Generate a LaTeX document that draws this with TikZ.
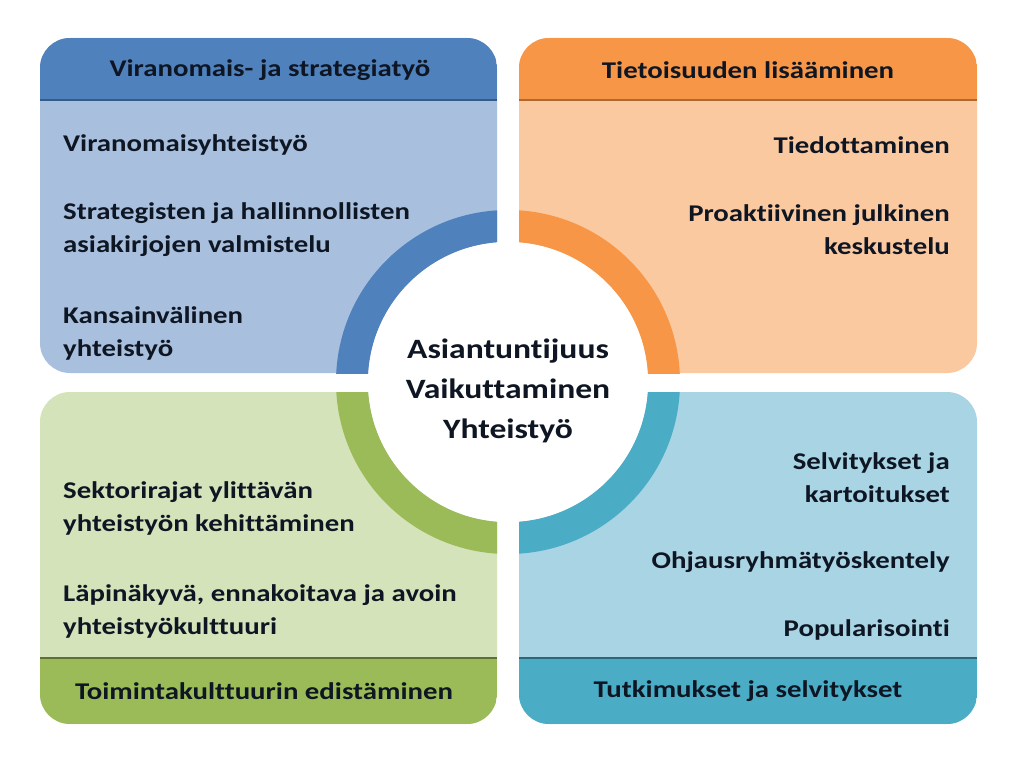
\documentclass[tikz,border=0pt]{standalone}
\usepackage{fontspec}
\setmainfont[Ligatures=NoCommon,FakeStretch=1.2]{Carlito}
\usetikzlibrary{backgrounds}

\definecolor{blueHead}{RGB}{79,129,189}
\definecolor{blueBody}{RGB}{168,192,222}
\definecolor{orangeHead}{RGB}{247,150,70}
\definecolor{orangeBody}{RGB}{251,201,160}
\definecolor{greenHead}{RGB}{155,187,89}
\definecolor{greenBody}{RGB}{213,227,187}
\definecolor{tealHead}{RGB}{75,172,198}
\definecolor{tealBody}{RGB}{168,212,228}
\definecolor{inkText}{RGB}{15,22,35}

\begin{document}
\begin{tikzpicture}[x=1pt,y=-1pt]
\tikzstyle{every node}=[text=inkText,font=\bfseries\fontsize{24}{33}\selectfont,inner sep=0pt]
\tikzstyle{title}=[font=\bfseries\fontsize{24}{28}\selectfont]
\tikzstyle{lefttext}=[anchor=west,align=left]
\tikzstyle{righttext}=[anchor=east,align=right]
\useasboundingbox (0,0) rectangle (1023,768);
\fill[white] (0,0) rectangle (1023,768);
% panels
\fill[blueBody,rounded corners=30] (40,38) rectangle (497,373);
\fill[orangeBody,rounded corners=30] (519,38) rectangle (977,373);
\fill[greenBody,rounded corners=30] (40,392) rectangle (497,724);
\fill[tealBody,rounded corners=30] (519,392) rectangle (977,724);
% header and footer bands
\begin{scope}
\clip[rounded corners=30] (40,38) rectangle (497,373);
\fill[blueHead] (40,38) rectangle (497,100);
\draw[blueHead!70!black,line width=2] (40,100) -- (497,100);
\end{scope}
\begin{scope}
\clip[rounded corners=30] (519,38) rectangle (977,373);
\fill[orangeHead] (519,38) rectangle (977,100);
\draw[orangeHead!70!black,line width=2] (519,100) -- (977,100);
\end{scope}
\begin{scope}
\clip[rounded corners=30] (40,392) rectangle (497,724);
\fill[greenHead] (40,658) rectangle (497,724);
\draw[greenHead!60!black,line width=2] (40,658) -- (497,658);
\end{scope}
\begin{scope}
\clip[rounded corners=30] (519,392) rectangle (977,724);
\fill[tealHead] (519,658) rectangle (977,724);
\draw[tealHead!60!black,line width=2] (519,658) -- (977,658);
\end{scope}
% ring
\coordinate (mid) at (508,382);
\begin{scope}
\clip (40,38) rectangle (497,373);
\fill[blueHead,even odd rule] (mid) circle (172) (mid) circle (140);
\end{scope}
\begin{scope}
\clip (519,38) rectangle (977,373);
\fill[orangeHead,even odd rule] (mid) circle (172) (mid) circle (140);
\end{scope}
\begin{scope}
\clip (40,392) rectangle (497,724);
\fill[greenHead,even odd rule] (mid) circle (172) (mid) circle (140);
\end{scope}
\begin{scope}
\clip (519,392) rectangle (977,724);
\fill[tealHead,even odd rule] (mid) circle (172) (mid) circle (140);
\end{scope}
\fill[white] (mid) circle (140);
% titles
\node[title] (vir) at (270,70) {Viranomais- ja strategiatyö};
\node[title] (tie) at (748,70) {Tietoisuuden lisääminen};
\node[title] (toi) at (264,691) {Toimintakulttuurin edistäminen};
\node[title] (tut) at (748,691) {Tutkimukset ja selvitykset};
% items
\node[lefttext] (v1) at (63,145) {Viranomaisyhteistyö};
\node[lefttext] (v2) at (63,230) {Strategisten ja hallinnollisten\\asiakirjojen valmistelu};
\node[lefttext] (v3) at (63,333) {Kansainvälinen\\yhteistyö};
\node[righttext] (t1) at (950,145) {Tiedottaminen};
\node[righttext] (t2) at (950,230) {Proaktiivinen julkinen\\keskustelu};
\node[lefttext] (k1) at (63,508) {Sektorirajat ylittävän\\yhteistyön kehittäminen};
\node[lefttext] (k2) at (63,611) {Läpinäkyvä, ennakoitava ja avoin\\yhteistyökulttuuri};
\node[righttext] (s1) at (950,478) {Selvitykset ja\\kartoitukset};
\node[righttext] (s2) at (950,562) {Ohjausryhmätyöskentely};
\node[righttext] (s3) at (950,630) {Popularisointi};
% centre
\node[align=center,font=\bfseries\fontsize{28}{40}\selectfont] (core) at (508,391) {Asiantuntijuus\\Vaikuttaminen\\Yhteistyö};
\end{tikzpicture}
\end{document}
